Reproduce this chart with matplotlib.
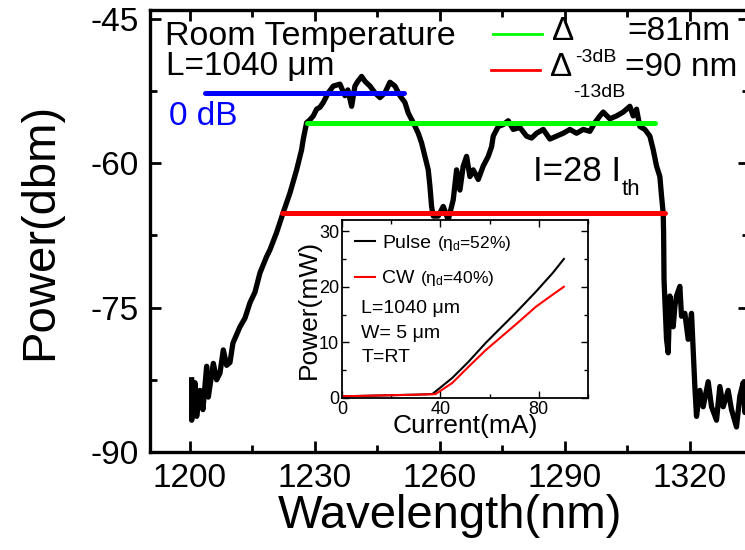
import matplotlib
matplotlib.use('Agg')
import matplotlib.pyplot as plt
import matplotlib.ticker as ticker

plt.rcParams['font.family'] = ['Liberation Sans', 'DejaVu Sans']
plt.rcParams['mathtext.fontset'] = 'custom'
plt.rcParams['mathtext.rm'] = 'Liberation Sans'
plt.rcParams['mathtext.it'] = 'Liberation Sans'
plt.rcParams['axes.unicode_minus'] = False

# emission spectrum at I = 28 Ith
wavelength = [1200.4, 1200.4, 1201.2, 1201.6, 1202.4, 1203.1, 1204.0, 1204.4, 1205.6, 1206.4,
              1207.2, 1208.0, 1208.8, 1209.6, 1210.3, 1212.0, 1213.2, 1214.4, 1215.6, 1216.8,
              1218.4, 1219.2, 1220.8, 1222.4, 1224.0, 1225.6, 1226.8, 1227.2, 1228.0, 1228.8,
              1229.6, 1230.4, 1231.2, 1232.0, 1233.2, 1234.4, 1236.0, 1237.2, 1237.9, 1238.8,
              1239.6, 1240.3, 1241.2, 1242.0, 1243.2, 1244.4, 1245.6, 1246.8, 1248.0, 1249.2,
              1250.4, 1251.6, 1252.4, 1253.6, 1254.8, 1255.6, 1256.4, 1257.2, 1257.6, 1258.0,
              1258.4, 1259.6, 1260.8, 1262.0, 1263.2, 1264.0, 1264.8, 1265.6, 1266.4, 1267.2,
              1268.0, 1269.2, 1270.4, 1271.6, 1272.4, 1272.8, 1274.0, 1275.2, 1276.4, 1277.6,
              1279.2, 1280.8, 1282.0, 1283.2, 1284.8, 1286.4, 1288.0, 1289.6, 1291.2, 1292.8,
              1294.4, 1296.0, 1297.2, 1298.4, 1299.2, 1300.8, 1302.4, 1304.0, 1305.6, 1306.4,
              1307.2, 1308.0, 1309.2, 1310.4, 1311.2, 1312.0, 1312.8, 1313.2, 1313.6, 1313.7,
              1313.8, 1314.0, 1314.4, 1314.8, 1315.2, 1316.0, 1316.4, 1316.8, 1317.6, 1318.0,
              1318.8, 1319.6, 1320.4, 1320.8, 1321.2, 1321.6, 1322.4, 1323.2, 1324.4, 1325.2,
              1326.4, 1327.2, 1328.0, 1329.2, 1330.0, 1331.2, 1332.0, 1332.8, 1333.2, 1334.0]
power = [-82.5, -86.7, -82.8, -86.3, -83.6, -85.6, -81.1, -84.3, -80.8, -82.5,
         -81.8, -79.4, -81.0, -80.7, -78.7, -77.0, -76.1, -74.5, -73.4, -71.4,
         -69.7, -69.0, -67.2, -65.1, -63.1, -60.7, -58.6, -57.5, -55.8, -55.5,
         -55.1, -54.4, -54.2, -53.7, -52.7, -52.0, -51.8, -53.0, -52.4, -54.1,
         -52.0, -51.5, -51.0, -51.5, -52.0, -52.7, -53.2, -52.7, -51.6, -52.0,
         -53.0, -53.7, -54.8, -55.8, -56.9, -57.9, -59.3, -60.7, -62.4, -64.5,
         -65.5, -65.5, -64.5, -65.9, -63.8, -60.7, -62.8, -60.3, -59.3, -61.4,
         -60.7, -61.7, -60.3, -59.3, -58.3, -57.2, -56.2, -56.0, -55.6, -56.5,
         -56.3, -57.2, -57.4, -56.9, -56.5, -57.5, -57.2, -56.9, -56.5, -56.9,
         -56.5, -56.7, -55.8, -55.1, -54.7, -55.4, -55.1, -54.7, -54.1, -55.1,
         -54.4, -56.2, -56.5, -57.2, -58.6, -60.3, -61.4, -63.4, -65.2, -67.2,
         -72.1, -74.2, -78.3, -79.7, -73.8, -77.0, -74.9, -73.8, -72.8, -75.9,
         -75.6, -78.3, -75.6, -79.4, -83.2, -86.3, -83.6, -85.3, -82.7, -85.3,
         -86.7, -83.2, -85.3, -83.6, -85.6, -87.4, -84.2, -82.8, -85.9, -84.5]

# bandwidth markers
ref_0db = [1203.6, 1251.4, -52.7]
bw_3db = [1228.1, 1311.6, -55.8]
bw_13db = [1222.1, 1314.0, -65.2]

# L-I curves for the inset
pulse_current = [0, 10, 20, 30, 36.7, 44.8, 51.4, 58.4, 70.6, 78.8, 85.7, 90.2]
pulse_power = [0.3, 0.4, 0.5, 0.6, 0.7, 3.6, 6.5, 9.9, 15.3, 19.1, 22.5, 25.0]
cw_current = [0, 10, 20, 30, 38.0, 44.8, 51.4, 58.4, 70.6, 78.8, 85.7, 90.2]
cw_power = [0.3, 0.4, 0.5, 0.6, 0.7, 2.7, 5.6, 8.6, 13.2, 16.4, 18.6, 20.0]

fig = plt.figure(figsize=(7.45, 5.5), dpi=100)
ax = fig.add_axes([150 / 745, 98 / 550, 599 / 745, 442 / 550])

ax.plot(wavelength, power, color='black', lw=3.8, solid_joinstyle='round', zorder=3)
ax.plot(ref_0db[:2], [ref_0db[2]] * 2, color='#0000ff', lw=3.6, solid_capstyle='round', zorder=4)
ax.plot(bw_3db[:2], [bw_3db[2]] * 2, color='#00ff00', lw=3.6, solid_capstyle='round', zorder=4)
ax.plot(bw_13db[:2], [bw_13db[2]] * 2, color='#ff0000', lw=3.6, solid_capstyle='round', zorder=4)

ax.set_xlim(1190.4, 1334.2)
ax.set_ylim(-90, -44.1)
ax.xaxis.set_major_locator(ticker.MultipleLocator(30))
ax.xaxis.set_minor_locator(ticker.MultipleLocator(15))
ax.yaxis.set_major_locator(ticker.MultipleLocator(15))
ax.yaxis.set_minor_locator(ticker.MultipleLocator(7.5))
ax.tick_params(which='both', direction='in', top=True, right=True, width=2, labelsize=24, pad=8)
ax.tick_params(which='major', length=8)
ax.tick_params(which='minor', length=5)
for sp in ax.spines.values():
    sp.set_linewidth(2.4)

ax.set_xlabel('Wavelength(nm)', fontsize=34)
ax.set_ylabel('Power(dbm)', fontsize=34)
ax.xaxis.set_label_coords(0.5, -0.095)
ax.yaxis.set_label_coords(-0.147, 0.5)

ax.text(1194.0, -47.7, 'Room Temperature', fontsize=24.5)
ax.text(1194.2, -50.9, 'L=1040 \u03bcm', fontsize=24)
ax.text(1195.0, -56.0, '0 dB', fontsize=24, color='#0000ff')
ax.text(1282.3, -61.9, 'I=28 I', fontsize=25)
ax.text(1303.6, -63.3, 'th', fontsize=16)

# key for the bandwidth lines
ax.plot([1272.7, 1284.5], [-46.6, -46.6], color='#00ff00', lw=2, clip_on=False)
ax.plot([1272.2, 1284.0], [-50.3, -50.3], color='#ff0000', lw=2, clip_on=False)
ax.text(1286.9, -47.2, '\u0394', fontsize=24)
ax.text(1292.4, -49.5, '-3dB', fontsize=14)
ax.text(1304.9, -47.2, '=81nm', fontsize=24)
ax.text(1286.4, -51.0, '\u0394', fontsize=24)
ax.text(1291.9, -53.1, '-13dB', fontsize=14)
ax.text(1304.4, -51.0, '=90 nm', fontsize=24)

# inset: light-current characteristics
ins = fig.add_axes([342 / 745, 152 / 550, 246 / 745, 178 / 550])
ins.plot(pulse_current, pulse_power, color='black', lw=1.5)
ins.plot(cw_current, cw_power, color='#ff0000', lw=1.5)
ins.set_xlim(0, 100)
ins.set_ylim(0, 32)
ins.xaxis.set_major_locator(ticker.MultipleLocator(40))
ins.xaxis.set_minor_locator(ticker.MultipleLocator(20))
ins.yaxis.set_major_locator(ticker.MultipleLocator(10))
ins.yaxis.set_minor_locator(ticker.MultipleLocator(5))
ins.tick_params(which='both', direction='in', top=True, right=True, width=1, labelsize=13, pad=2)
ins.tick_params(which='major', length=5)
ins.tick_params(which='minor', length=3)
for sp in ins.spines.values():
    sp.set_linewidth(1.3)
ins.set_xlabel('Current(mA)', fontsize=19, labelpad=-3)
ins.set_ylabel('Power(mW)', fontsize=19, labelpad=-1)

ins.plot([5.3, 13.5], [28.2, 28.2], color='black', lw=1.5)
ins.plot([5.3, 13.5], [21.8, 21.8], color='#ff0000', lw=1.5)
ins.text(16.3, 27.0, 'Pulse', fontsize=14)
ins.text(38.8, 27.0, '(\u03b7$_\\mathregular{d}$=52%)', fontsize=12.5)
ins.text(16.3, 20.7, 'CW', fontsize=14)
ins.text(31.8, 20.7, '(\u03b7$_\\mathregular{d}$=40%)', fontsize=12.5)
ins.text(7.8, 15.3, 'L=1040 \u03bcm', fontsize=14)
ins.text(7.8, 10.8, 'W= 5 \u03bcm', fontsize=14)
ins.text(7.8, 6.5, 'T=RT', fontsize=14)

fig.savefig('out.png', dpi=100)
